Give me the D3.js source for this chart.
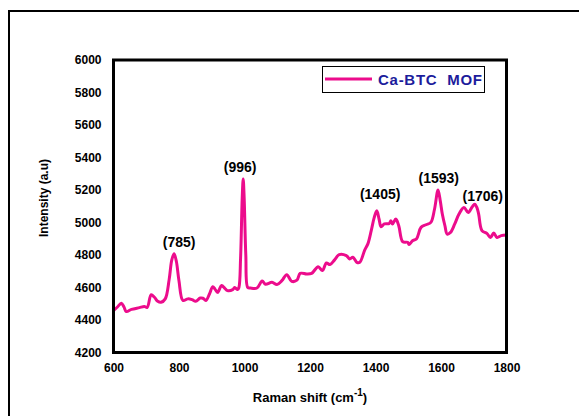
<!DOCTYPE html>
<html>
  <head>
    <script src="https://d3js.org/d3.v7.min.js"></script>
    <style>
      html, body { margin: 0; padding: 0; background: #fff; }
      svg { display: block; font-family: 'Liberation Sans', Arial, sans-serif; }
    </style>
  </head>
  <body>
    <div id="chart"></div>
    <script>
      // Raman spectrum
      var ramanShift = [600, 612, 624, 632, 639, 655, 679, 694, 703, 715, 725, 735, 745, 758, 770, 778, 785, 792, 800, 812,
        827, 840, 851, 865, 873, 882, 893, 903, 910, 918, 930, 940, 948, 964, 970, 979, 983, 988, 993, 996, 999, 1004,
        1010, 1018, 1038, 1054, 1064, 1084, 1099, 1114, 1129, 1144, 1160, 1170, 1190, 1205, 1225, 1238, 1250, 1261, 1275, 1289,
        1311, 1321, 1331, 1343, 1352, 1367, 1377, 1387, 1396, 1404, 1411, 1417, 1427, 1442, 1447, 1452, 1462, 1471, 1483, 1498,
        1503, 1513, 1525, 1539, 1554, 1569, 1580, 1591, 1598, 1604, 1612, 1619, 1629, 1642, 1655, 1670, 1683, 1695, 1703, 1710,
        1715, 1725, 1740, 1751, 1761, 1771, 1784, 1800];
      var intensity = [4458, 4480, 4503, 4480, 4452, 4465, 4476, 4483, 4478, 4556, 4540, 4515, 4509, 4530, 4650, 4770, 4808, 4760, 4640, 4520,
        4530, 4525, 4515, 4535, 4534, 4520, 4560, 4605, 4590, 4570, 4612, 4595, 4581, 4587, 4600, 4587, 4600, 4780, 5150, 5267, 5150, 4800,
        4600, 4597, 4597, 4640, 4620, 4632, 4618, 4642, 4679, 4638, 4645, 4687, 4683, 4687, 4728, 4704, 4751, 4741, 4770, 4802,
        4796, 4776, 4786, 4755, 4755, 4830, 4870, 4950, 5030, 5072, 5020, 4974, 4991, 4994, 5011, 4991, 5021, 4980, 4882, 4878,
        4864, 4888, 4899, 4970, 4986, 5001, 5080, 5200, 5130, 5052, 4980, 4929, 4939, 4991, 5052, 5093, 5062, 5095, 5113, 5090,
        5052, 4950, 4933, 4908, 4935, 4908, 4919, 4923];

      var xTicks = [600, 800, 1000, 1200, 1400, 1600, 1800];
      var yTicks = [4200, 4400, 4600, 4800, 5000, 5200, 5400, 5600, 5800, 6000];

      // peak labels
      var peakPos = [785, 996, 1405, 1593, 1706];
      var peakText = ["(785)", "(996)", "(1405)", "(1593)", "(1706)"];
      var peakHeight = [4808, 5267, 5072, 5200, 5113];
      // small nudges so labels sit like in the original figure
      var labelDx = [5, -3, 3, 0, 7];
      var labelDy = [0, 0, -5, 0, 4];

      var width = 579, height = 416;
      var plotLeft = 113.5, plotRight = 506.5, plotTop = 60, plotBottom = 352.5;

      var svg = d3.select("#chart").append("svg")
        .attr("width", width)
        .attr("height", height);

      // outer frame
      svg.append("rect")
        .attr("x", 9).attr("y", 11)
        .attr("width", 700).attr("height", 600)
        .attr("fill", "none")
        .attr("stroke", "#000")
        .attr("stroke-width", 2);

      var x = d3.scaleLinear().domain([600, 1800]).range([plotLeft, plotRight]);
      var y = d3.scaleLinear().domain([4200, 6000]).range([plotBottom, plotTop]);

      var data = ramanShift.map(function (d, i) { return [d, intensity[i]]; });

      var line = d3.line()
        .x(function (d) { return x(d[0]); })
        .y(function (d) { return y(d[1]); })
        .curve(d3.curveCatmullRom.alpha(0.5));

      svg.append("path")
        .datum(data)
        .attr("d", line)
        .attr("fill", "none")
        .attr("stroke", "#ec0c8c")
        .attr("stroke-width", 3)
        .attr("stroke-linejoin", "round");

      // plot frame
      svg.append("rect")
        .attr("x", plotLeft).attr("y", plotTop)
        .attr("width", plotRight - plotLeft).attr("height", plotBottom - plotTop)
        .attr("fill", "none")
        .attr("stroke", "#000")
        .attr("stroke-width", 3);

      // axes, labels only
      var xAxis = svg.append("g")
        .attr("transform", "translate(0," + plotBottom + ")")
        .call(d3.axisBottom(x).tickValues(xTicks).tickSize(0).tickPadding(11).tickFormat(d3.format("d")));
      var yAxis = svg.append("g")
        .attr("transform", "translate(" + plotLeft + ",0)")
        .call(d3.axisLeft(y).tickValues(yTicks).tickSize(0).tickPadding(12).tickFormat(d3.format("d")));
      [xAxis, yAxis].forEach(function (a) {
        a.select(".domain").remove();
        a.selectAll("text")
          .attr("font-family", "'Liberation Sans', Arial, sans-serif")
          .attr("font-size", 12)
          .attr("font-weight", "bold")
          .attr("fill", "#000");
      });

      // axis titles
      var xt = svg.append("text")
        .attr("x", 310).attr("y", 402)
        .attr("text-anchor", "middle")
        .attr("font-size", 13).attr("font-weight", "bold");
      xt.append("tspan").text("Raman shift (cm");
      xt.append("tspan").attr("dy", -6).attr("font-size", 10).text("-1");
      xt.append("tspan").attr("dy", 6).text(")");

      svg.append("text")
        .attr("transform", "translate(48,198) rotate(-90)")
        .attr("text-anchor", "middle")
        .attr("font-size", 12).attr("font-weight", "bold")
        .text("Intensity (a.u)");

      // peak labels
      svg.selectAll(".peak")
        .data(peakPos)
        .enter().append("text")
        .attr("class", "peak")
        .attr("x", function (d, i) { return x(d) + labelDx[i]; })
        .attr("y", function (d, i) { return y(peakHeight[i]) - 7 + labelDy[i]; })
        .attr("text-anchor", "middle")
        .attr("font-size", 14).attr("font-weight", "bold")
        .text(function (d, i) { return peakText[i]; });

      // legend
      var lg = svg.append("g");
      lg.append("rect")
        .attr("x", 322.5).attr("y", 66.5)
        .attr("width", 162).attr("height", 26)
        .attr("fill", "#fff")
        .attr("stroke", "#000")
        .attr("stroke-width", 1);
      lg.append("line")
        .attr("x1", 325).attr("x2", 372)
        .attr("y1", 79).attr("y2", 79)
        .attr("stroke", "#ec0c8c")
        .attr("stroke-width", 3);
      lg.append("text")
        .attr("x", 378).attr("y", 85)
        .attr("font-size", 15).attr("font-weight", "bold")
        .attr("fill", "#1c1c9c")
        .attr("xml:space", "preserve")
        .attr("textLength", 104)
        .text("Ca-BTC  MOF");
    </script>
  </body>
</html>
